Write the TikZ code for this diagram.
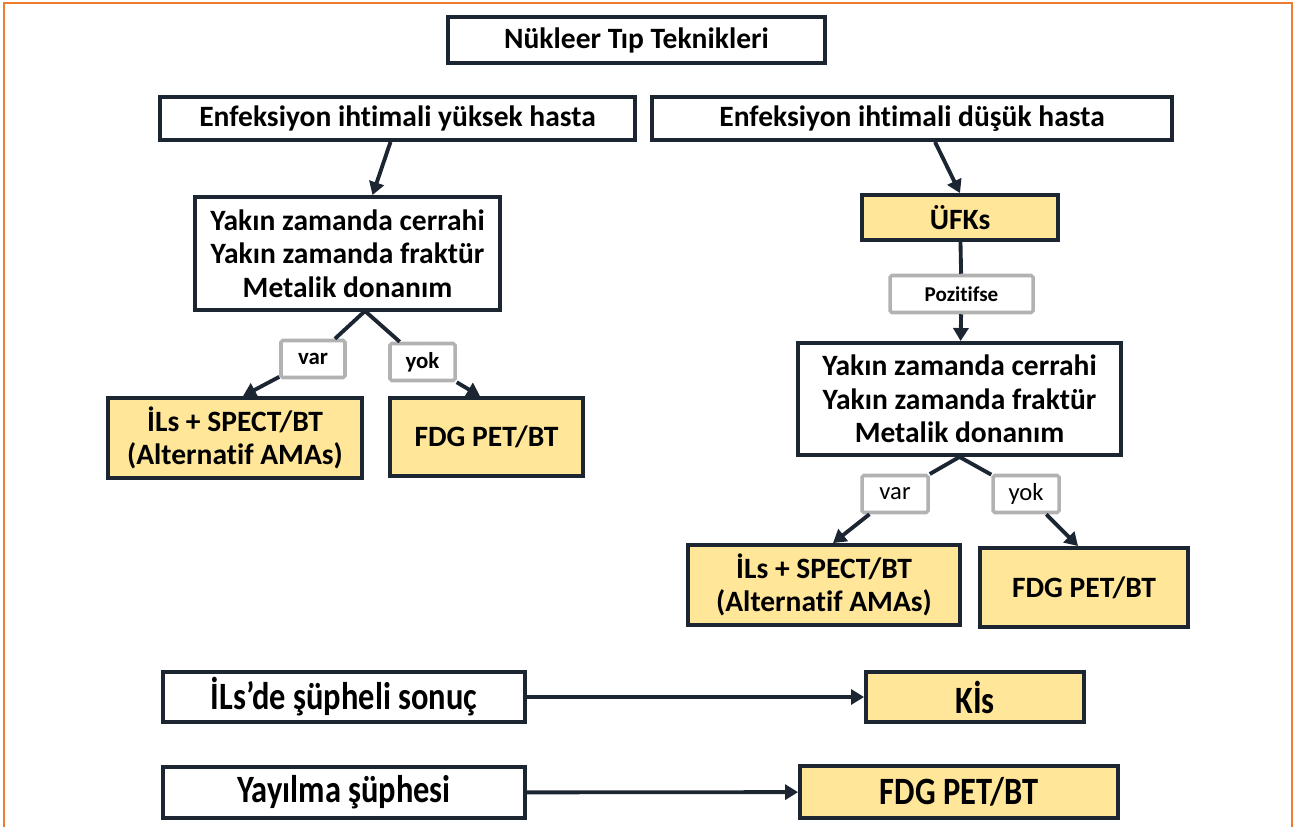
\documentclass[tikz,border=0pt]{standalone}
\usepackage{fontspec}
\setmainfont{Carlito}[Ligatures=NoCommon]
\newfontfamily\narrowfont{Carlito}[FakeStretch=0.84, Ligatures=NoCommon]
\usetikzlibrary{arrows.meta}
\definecolor{boxline}{HTML}{1C2633}
\definecolor{gold}{HTML}{FFE699}
\definecolor{frameorange}{HTML}{ED7D31}
\newcommand{\pxu}{0.02cm}
\begin{document}
\begin{tikzpicture}[x=0.02cm, y=-0.02cm,
    box/.style={draw=boxline, line width=2.2pt, fill=white, inner sep=0pt,
                align=center, font=\fontsize{16.8}{19}\selectfont\bfseries},
    result/.style={box, fill=gold},
    tag/.style={draw=gray!60, line width=2pt, fill=white, inner sep=0pt,
                rounded corners=1pt, minimum height=37*\pxu, font=\fontsize{14}{16}\selectfont},
    flow/.style={draw=boxline, line width=2.2pt},
    arr/.style={flow, -{Triangle[length=0.26cm, width=0.3cm]}},
    big/.style={font=\fontsize{22}{24}\selectfont\narrowfont\bfseries}]
    \useasboundingbox (0,0) rectangle (1297,827);
    \draw[frameorange, line width=1pt] (4,830) -- (4,3) -- (1292,3) -- (1292,830);

    \node[box, minimum width=377*\pxu, minimum height=46*\pxu] (title) at (636.5,40) {Nükleer Tıp Teknikleri};
    \node[box, minimum width=475*\pxu, minimum height=43*\pxu] (high) at (397.5,118.5) {Enfeksiyon ihtimali yüksek hasta};
    \node[box, minimum width=520*\pxu, minimum height=43*\pxu] (low) at (912,118.5) {Enfeksiyon ihtimali düşük hasta};

    % left branch
    \node[box, minimum width=305*\pxu, minimum height=113*\pxu] (condL) at (347.5,253.5)
        {Yakın zamanda cerrahi\\Yakın zamanda fraktür\\Metalik donanım};
    \node[tag, minimum width=64*\pxu, font=\fontsize{13}{15}\selectfont\bfseries] (varL) at (313,359) {var};
    \node[tag, minimum width=65*\pxu, font=\fontsize{13}{15}\selectfont\bfseries] (yokL) at (422.5,362) {yok};
    \node[result, minimum width=254*\pxu, minimum height=80*\pxu] (ilsL) at (235,438) {İLs + SPECT/BT\\(Alternatif AMAs)};
    \node[result, minimum width=193*\pxu, minimum height=78*\pxu] (fdgL) at (486.5,437) {FDG PET/BT};
    \coordinate (splitL) at (365,311);

    \draw[arr] ([xshift=-0.14cm]high.south) -- ([xshift=0.5cm]condL.north);
    \draw[flow] (splitL) -- (varL);
    \draw[flow] (splitL) -- (yokL);
    \draw[arr] (varL) -- ([xshift=0.16cm]ilsL.north);
    \draw[arr] (yokL) -- ([xshift=-0.13cm]fdgL.north);

    % right branch
    \node[result, minimum width=196*\pxu, minimum height=45*\pxu] (ufk) at (960,217.5) {ÜFKs};
    \node[tag, minimum width=143*\pxu, font=\fontsize{12}{14}\selectfont\bfseries] (pos) at (961.5,294) {Pozitifse};
    \node[box, minimum width=323*\pxu, minimum height=112*\pxu] (condR) at (959.5,399)
        {Yakın zamanda cerrahi\\Yakın zamanda fraktür\\Metalik donanım};
    \node[tag, minimum width=66*\pxu] (varR) at (895,494) {var};
    \node[tag, minimum width=66*\pxu] (yokR) at (1026,494) {yok};
    \node[result, minimum width=272*\pxu, minimum height=80*\pxu] (ilsR) at (824,585) {İLs + SPECT/BT\\(Alternatif AMAs)};
    \node[result, minimum width=208*\pxu, minimum height=79*\pxu] (fdgR) at (1084,587.5) {FDG PET/BT};

    \draw[arr] ([xshift=0.46cm]low.south) -- (ufk.north);
    \draw[flow] (ufk) -- (pos);
    \draw[arr] (pos) -- (condR);
    \draw[flow] (condR.south) -- (varR);
    \draw[flow] (condR.south) -- (yokR);
    \draw[arr] (varR) -- ([xshift=0.18cm]ilsR.north);
    \draw[arr] (yokR) -- ([xshift=-0.12cm]fdgR.north);

    % bottom rows
    \node[box, big, minimum width=362*\pxu, minimum height=50*\pxu] (susp) at (344,697) {İLs’de şüpheli sonuç};
    \node[result, big, minimum width=218*\pxu, minimum height=50*\pxu] (kis) at (975,697) {Kİs};
    \node[box, big, minimum width=362*\pxu, minimum height=51*\pxu] (spread) at (344,792.5) {Yayılma şüphesi};
    \node[result, big, minimum width=318*\pxu, minimum height=52*\pxu] (fdgB) at (959,792) {FDG PET/BT};

    \draw[arr] (susp) -- (kis);
    \draw[arr] (spread) -- (fdgB);
\end{tikzpicture}
\end{document}
